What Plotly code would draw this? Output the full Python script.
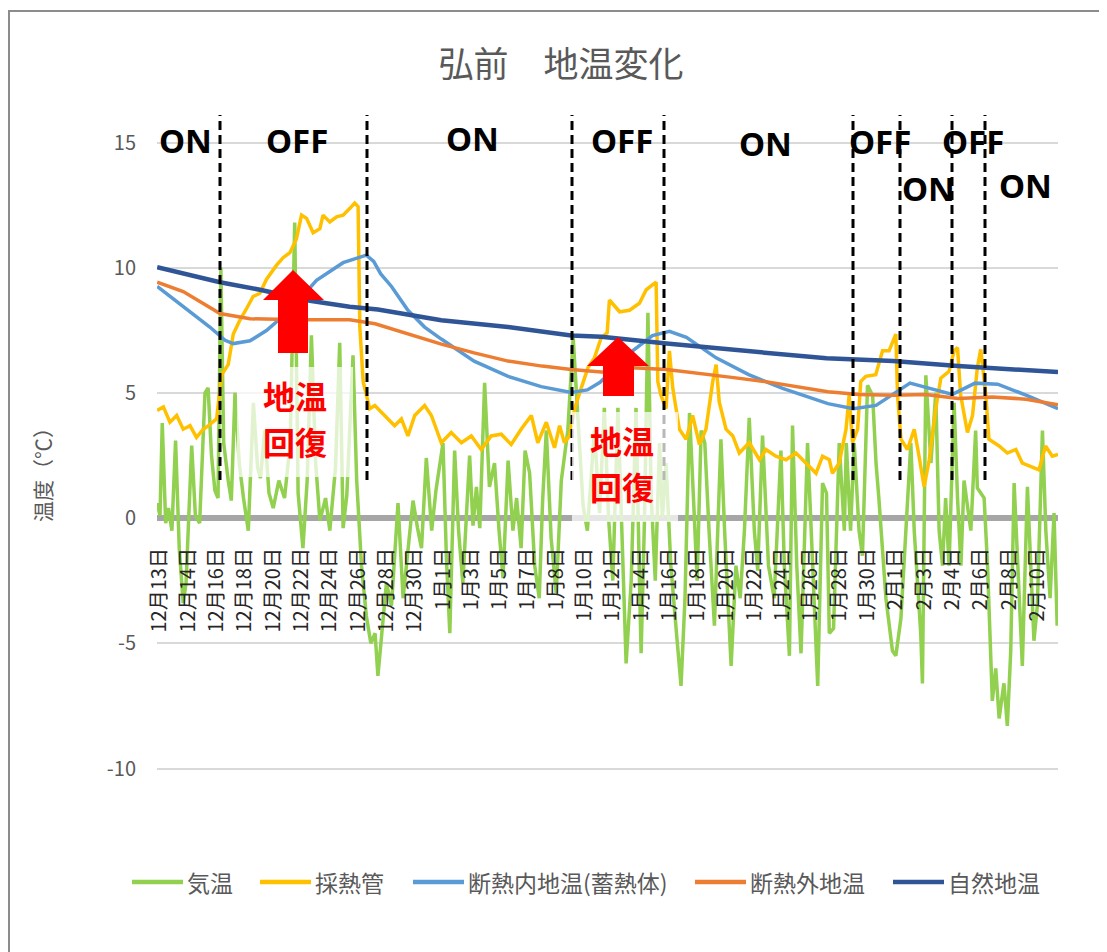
import plotly.graph_objects as go

# ---------------- data (x = position index along category axis; label k at x=k) -------------
date_labels = ["12月13日", "12月14日", "12月16日", "12月18日", "12月20日", "12月22日", "12月24日",
               "12月26日", "12月28日", "12月30日", "1月1日", "1月3日", "1月5日", "1月7日", "1月8日",
               "1月10日", "1月12日", "1月14日", "1月16日", "1月18日", "1月20日", "1月22日", "1月24日",
               "1月26日", "1月28日", "1月30日", "2月1日", "2月3日", "2月4日", "2月6日", "2月8日", "2月10日"]

air_x = [-0.1, 0.0, 0.08, 0.2, 0.3, 0.42, 0.55, 0.68, 0.82, 0.92, 1.12, 1.25, 1.4, 1.59, 1.7, 1.82, 1.94,
         2.05, 2.15, 2.25, 2.41, 2.52, 2.65, 2.8, 2.95, 3.12, 3.3, 3.45, 3.55, 3.7, 3.85, 4.0, 4.2, 4.4,
         4.6, 4.76, 4.88, 5.05, 5.2, 5.35, 5.5, 5.65, 5.85, 6.0, 6.2, 6.35, 6.47, 6.6, 6.82, 6.95, 7.12,
         7.29, 7.45, 7.6, 7.7, 7.8, 8.0, 8.18, 8.41, 8.59, 8.75, 8.94, 9.1, 9.24, 9.41, 9.6, 9.75, 10.0,
         10.12, 10.24, 10.41, 10.55, 10.7, 10.94, 11.06, 11.18, 11.3, 11.47, 11.64, 11.82, 11.98, 12.12,
         12.3, 12.47, 12.6, 12.76, 12.9, 13.06, 13.24, 13.4, 13.52, 13.65, 13.82, 14.0, 14.18, 14.41,
         14.6, 14.78, 14.95, 15.1, 15.35, 15.53, 15.7, 15.85, 16.0, 16.18, 16.33, 16.47, 16.65, 16.82,
         16.95, 17.0, 17.12, 17.24, 17.36, 17.5, 17.65, 17.75, 17.88, 18.05, 18.25, 18.41, 18.55, 18.71,
         18.85, 18.98, 19.12, 19.25, 19.4, 19.59, 19.82, 19.95, 20.18, 20.35, 20.5, 20.65, 20.82, 21.0,
         21.12, 21.29, 21.5, 21.7, 21.94, 22.06, 22.24, 22.35, 22.5, 22.65, 22.88, 23.05, 23.24, 23.41,
         23.55, 23.65, 23.8, 24.0, 24.18, 24.25, 24.4, 24.53, 24.7, 24.82, 25.0, 25.18, 25.3, 25.4, 25.53,
         25.65, 25.88, 26.0, 26.18, 26.35, 26.53, 26.65, 26.88, 26.94, 27.06, 27.24, 27.41, 27.53, 27.65,
         27.76, 27.88, 28.0, 28.06, 28.18, 28.3, 28.41, 28.65, 28.82, 28.88, 29.12, 29.24, 29.41, 29.53,
         29.65, 29.82, 29.94, 30.06, 30.18, 30.3, 30.47, 30.65, 30.76, 30.88, 31.0, 31.18, 31.3, 31.45,
         31.59, 31.7]
air_v = [0.6, 0.1, 3.8, -0.2, 0.4, -0.5, 3.1, -1.2, -3.4, -2.6, 2.9, 0.1, -0.2, 5.0, 5.2, 2.5, 1.1,
         0.8, 10.0, 3.0, 1.5, 0.7, 5.0, 2.2, 0.8, -0.5, 4.6, 2.0, 1.6, 3.5, 1.0, 0.4, 1.5, 0.8,
         3.0, 11.8, 1.0, -1.2, 1.5, 7.3, 2.2, -0.1, 0.8, -0.5, 2.0, 7.0, -0.4, 0.9, 6.5, 1.5, -1.9,
         -3.9, -5.0, -4.6, -6.3, -5.0, -2.6, -3.5, 0.6, -3.2, -1.5, 0.7, -0.4, -1.2, 2.4, -0.5, 1.1, 3.0,
         -1.6, -4.6, 2.7, -0.5, -2.6, 2.5, -0.3, 1.25, -0.4, 5.4, 1.25, 2.2, -0.5, -2.4,
         2.3, -0.5, 0.8, -1.2, 2.7, 1.8, -1.9, -3.2, 0.7, 3.5, -0.8, -3.0, 1.5, 3.5,
         7.2, 3.5, 0.5, -0.5, 3.5, 0.2, 4.4, 0.0, -2.5, 4.4, -0.8, -5.8, -2.5, 4.4,
         -3.0, -5.4, 0.0, 8.2, 0.8, -2.5, 3.0, 0.0, 2.2, -1.9, -4.6, -6.7, -3.2, 4.2,
         0.8, -2.5, 3.5, 3.0, -0.5, -4.3, 3.15, -0.5, -5.9, -1.9, -3.2, -0.5, 4.0, -0.5,
         -2.1, 3.3, -1.9, -3.2, 2.7, -1.9, -5.5, 3.7, -1.9, -5.4, 3.0, -1.9, -6.7, 1.4,
         1.0, -4.6, -4.4, 3.0, -0.5, 3.0, -0.5, 3.0, -0.5, -1.5, 5.3, 4.9, 2.2, 0.8, -1.2,
         -3.2, -5.3, -5.5, -4.0, -0.5, 3.0, -0.5, -4.6, -6.6, 5.7, 2.2, 5.0, -0.5, -1.9,
         0.8, -1.9, 2.5, 4.6, 0.8, -1.9, 1.5, -0.5, 3.5, 1.2, 0.8, -1.9, -7.3, -6.0,
         -8.0, -6.6, -8.3, -5.3, 1.4, -1.9, -5.9, 1.25, -1.9, -4.9, -3.5, 3.5, -0.5, -3.2,
         0.2, -4.3]

pipe_x = [-0.1, 0.12, 0.35, 0.59, 0.82, 1.06, 1.29, 1.53, 1.71, 2.0, 2.18, 2.41, 2.59, 2.82, 3.06, 3.29,
          3.53, 3.76, 4.12, 4.35, 4.59, 4.82, 5.0, 5.18, 5.41, 5.65, 5.76, 6.0, 6.24, 6.47, 6.71, 6.88,
          7.0, 7.06, 7.18, 7.41, 7.59, 7.94, 8.29, 8.53, 8.76, 9.0, 9.35, 9.59, 9.94, 10.29, 10.65, 11.0,
          11.35, 11.7, 12.06, 12.41, 12.76, 13.12, 13.35, 13.65, 13.94, 14.12, 14.29, 14.47, 14.65, 14.88,
          15.12, 15.35, 15.59, 15.8, 15.88, 16.24, 16.59, 16.94, 17.18, 17.41, 17.53, 17.59, 17.7, 17.88,
          18.0, 18.12, 18.35, 18.59, 18.82, 19.06, 19.29, 19.53, 19.65, 19.76, 20.0, 20.24, 20.47, 20.82,
          21.18, 21.41, 21.76, 22.12, 22.47, 22.82, 23.18, 23.41, 23.65, 23.76, 24.0, 24.24, 24.35, 24.47,
          24.65, 24.76, 24.94, 25.29, 25.41, 25.53, 25.76, 26.0, 26.06, 26.18, 26.41, 26.65, 26.82, 27.0,
          27.18, 27.41, 27.59, 27.88, 28.06, 28.18, 28.29, 28.53, 28.71, 28.88, 29.0, 29.18, 29.29, 29.65,
          29.94, 30.24, 30.47, 30.82, 31.06, 31.29, 31.53, 31.73]
pipe_v = [4.3, 4.44, 3.83, 4.1, 3.55, 3.69, 3.22, 3.55, 3.69, 3.96, 5.73, 6.13, 7.35, 7.9, 8.37, 8.85,
          8.98, 9.53, 10.1, 10.4, 10.6, 11.15, 12.1, 11.97, 11.4, 11.56, 12.1, 11.83, 12.03, 12.1, 12.37, 12.58,
          12.44, 7.63, 5.45, 4.37, 4.5, 4.1, 3.69, 3.96, 3.28, 4.1, 4.5, 4.1, 3.01, 3.42, 3.01, 3.28,
          2.74, 3.28, 3.35, 2.94, 3.55, 4.1, 3.01, 3.83, 2.81, 3.69, 3.01, 3.28, 4.37, 5.18,
          6.0, 6.4, 7.2, 7.4, 8.71, 8.24, 8.3, 8.58, 9.12, 9.32, 9.42, 5.45, 4.91, 4.37,
          6.68, 5.18, 3.55, 3.15, 4.1, 2.94, 3.55, 5.45, 6.13, 4.64, 3.55, 3.28, 2.6, 3.01,
          2.33, 2.74, 2.47, 2.33, 2.6, 2.2, 1.79, 2.47, 2.33, 1.79, 2.2, 3.55, 4.91, 3.01,
          3.55, 5.45, 5.66, 5.73, 6.27, 6.68, 6.68, 7.35, 4.91, 3.15, 2.74, 3.55, 2.47, 1.25,
          2.33, 4.37, 5.59, 5.86, 6.68, 6.81, 4.91, 3.42, 4.1, 6.0, 6.74, 4.91, 3.15, 2.88,
          2.6, 2.74, 2.2, 2.06, 1.93, 2.88, 2.47, 2.54]

inner_x = [-0.1, 0.82, 1.76, 2.3, 2.59, 3.18, 3.76, 4.59, 5.53, 6.47, 7.29, 7.55, 7.8, 8.18, 8.76, 9.35,
           9.94, 11.1, 12.3, 13.47, 14.53, 15.1, 15.55, 16.7, 17.4, 18.0, 18.6, 19.65, 20.8, 22.0, 23.6,
           24.5, 25.3, 26.5, 27.06, 28.0, 28.8, 29.6, 30.6, 31.73]
inner_v = [9.25, 8.44, 7.63, 7.1, 6.97, 7.08, 7.49, 8.3, 9.5, 10.2, 10.5, 10.25, 9.75, 9.25, 8.3, 7.63,
           7.15, 6.27, 5.66, 5.25, 5.02, 5.12, 5.42, 6.68, 7.29, 7.46, 7.22, 6.4, 5.73, 5.18, 4.57,
           4.37, 4.5, 5.39, 5.21, 4.94, 5.39, 5.35, 4.91, 4.37]

outer_x = [-0.1, 0.82, 2.12, 3.18, 4.94, 6.7, 7.6, 8.76, 9.94, 11.1, 12.3, 13.5, 14.53, 15.7, 16.7, 17.9,
           19.06, 20.2, 21.4, 22.6, 23.6, 24.7, 25.9, 27.06, 28.2, 29.4, 30.6, 31.73]
outer_v = [9.42, 9.05, 8.17, 7.96, 7.92, 7.92, 7.76, 7.35, 6.95, 6.6, 6.27, 6.07, 5.93, 5.83, 6.0, 5.93,
           5.79, 5.62, 5.45, 5.25, 5.05, 4.94, 4.91, 4.94, 4.78, 4.84, 4.75, 4.53]

natural_x = [-0.1, 2.12, 3.53, 5.3, 6.7, 7.7, 9.94, 12.3, 14.53, 15.6, 17.9, 20.2, 23.55, 25.9, 28.2, 31.73]
natural_v = [10.02, 9.42, 9.12, 8.68, 8.44, 8.33, 7.9, 7.63, 7.29, 7.24, 6.97, 6.74, 6.38, 6.27, 6.07, 5.83]

series_names = ["気温", "採熱管", "断熱内地温(蓄熱体)", "断熱外地温", "自然地温"]
series_colors = ["#92D050", "#FFC000", "#5B9BD5", "#ED7D31", "#2F5597"]
series_data = [(air_x, air_v), (pipe_x, pipe_v), (inner_x, inner_v), (outer_x, outer_v), (natural_x, natural_v)]
series_widths = [3.5, 3.5, 3.5, 3.5, 4.5]

# ON / OFF labels: (text, screen x, screen y)
state_labels = [("ON", 185, 140), ("OFF", 297, 140), ("ON", 472, 138), ("OFF", 622, 140),
                ("ON", 765, 143), ("OFF", 880, 141), ("ON", 928, 188), ("OFF", 973, 141), ("ON", 1025, 185)]
switch_px = [220, 367, 572, 664, 853, 900, 952, 985]
legend_sym_px = [132, 260, 413, 695, 893]   # left end of each legend line sample
LEGEND_Y = 882

# ---------------- layout helpers (screen pixel -> paper) ----------------
W, H = 1107, 952
OFS = 8  # page body margin
PL, PR, PT, PB = 157, 1058, 141, 770  # plot area in screen pixels


def xp(px):
    return (px - PL) / (PR - PL)


def yp(py):
    return (PB - py) / (PB - PT)


FONT = "Noto Sans CJK JP, Noto Sans, sans-serif"
GRAY = "#595959"

fig = go.Figure()
for name, (xs, vs), col, lw in zip(series_names, series_data, series_colors, series_widths):
    fig.add_trace(go.Scatter(x=xs, y=vs, mode="lines", name=name, showlegend=False,
                             line=dict(color=col, width=lw)))

shapes = []
for px in switch_px:
    shapes.append(dict(type="line", xref="paper", yref="paper", x0=xp(px), x1=xp(px),
                       y0=yp(480), y1=yp(115), line=dict(color="black", width=3, dash="9px,5px")))
for (x0, y0, x1, y1) in [(237, 367, 353, 477), (572, 412, 678, 522)]:
    shapes.append(dict(type="rect", xref="paper", yref="paper", x0=xp(x0), x1=xp(x1),
                       y0=yp(y1), y1=yp(y0), fillcolor="rgba(255,255,255,0.72)", line=dict(width=0)))


def arrow_path(tipx, tipy, hl, hr, hb, sl, sr, sb):
    pts = [(tipx, tipy), (hr, hb), (sr, hb), (sr, sb), (sl, sb), (sl, hb), (hl, hb)]
    return "M " + " L ".join(f"{xp(a):.5f},{yp(b):.5f}" for a, b in pts) + " Z"


shapes.append(dict(type="path", xref="paper", yref="paper",
                   path=arrow_path(293, 270, 263, 324, 300, 278, 308, 353),
                   fillcolor="#FF0000", line=dict(width=0)))
shapes.append(dict(type="path", xref="paper", yref="paper",
                   path=arrow_path(618, 337, 587, 649, 366, 603, 634, 396),
                   fillcolor="#FF0000", line=dict(width=0)))
shapes.append(dict(type="rect", xref="paper", yref="paper", x0=xp(9), x1=xp(1130),
                   y0=yp(980), y1=yp(11), line=dict(color="#8C8C8C", width=2)))

annotations = []
for txt, px, py in state_labels:
    annotations.append(dict(text=f"<b>{txt}</b>", xref="paper", yref="paper", x=xp(px), y=yp(py),
                            showarrow=False, xanchor="center", yanchor="middle",
                            font=dict(family="Noto Sans, sans-serif", size=33, color="black")))
for px, py1, py2 in [(295, 395, 441), (622, 440, 486)]:
    for txt, py in (("地温", py1), ("回復", py2)):
        annotations.append(dict(text=f"<b>{txt}</b>", xref="paper", yref="paper", x=xp(px), y=yp(py),
                                showarrow=False, xanchor="center", yanchor="middle",
                                font=dict(family=FONT, size=32, color="#FF0000")))
annotations.append(dict(text="温度（℃）", xref="paper", yref="paper", x=xp(42), y=yp(470),
                        textangle=-90, showarrow=False, xanchor="center", yanchor="middle",
                        font=dict(family=FONT, size=21, color=GRAY)))

# legend drawn as line samples + labels
for name, col, sx in zip(series_names, series_colors, legend_sym_px):
    shapes.append(dict(type="line", xref="paper", yref="paper", x0=xp(sx), x1=xp(sx + 51),
                       y0=yp(LEGEND_Y), y1=yp(LEGEND_Y), line=dict(color=col, width=4.5)))
    annotations.append(dict(text=name, xref="paper", yref="paper", x=xp(sx + 53), y=yp(LEGEND_Y),
                            showarrow=False, xanchor="left", yanchor="middle",
                            font=dict(family=FONT, size=23, color=GRAY)))

ymin, ymax = -10.06, 15.06
fig.update_layout(
    width=W, height=H,
    margin=dict(l=PL - OFS, r=W - (PR - OFS), t=PT - OFS, b=H - (PB - OFS), autoexpand=False),
    paper_bgcolor="white", plot_bgcolor="white",
    title=dict(text="弘前　地温変化", x=(561 - OFS) / W, xref="container", xanchor="center",
               y=1 - (65 - OFS) / H, yref="container", yanchor="middle",
               font=dict(family=FONT, size=35, color=GRAY)),
    xaxis=dict(range=[-0.106, 31.73], anchor="free", position=(0 - ymin) / (ymax - ymin),
               tickmode="array", tickvals=list(range(len(date_labels))), ticktext=date_labels,
               tickangle=-90, showgrid=False, zeroline=False, showline=False, ticks="",
               ticklabelstandoff=25, automargin=False,
               tickfont=dict(family=FONT, size=20, color="#262626")),
    yaxis=dict(range=[ymin, ymax], tickmode="array", tickvals=[-10, -5, 0, 5, 10, 15],
               ticktext=["-10", "-5", "0", "5", "10", "15"], showgrid=True, gridcolor="#D9D9D9",
               gridwidth=2, zeroline=True, zerolinecolor="#A6A6A6", zerolinewidth=6,
               showline=False, ticks="", ticklabelstandoff=20, automargin=False,
               tickfont=dict(family=FONT, size=20, color=GRAY)),
    shapes=shapes, annotations=annotations, showlegend=False,
)

fig.write_html("out.html")
